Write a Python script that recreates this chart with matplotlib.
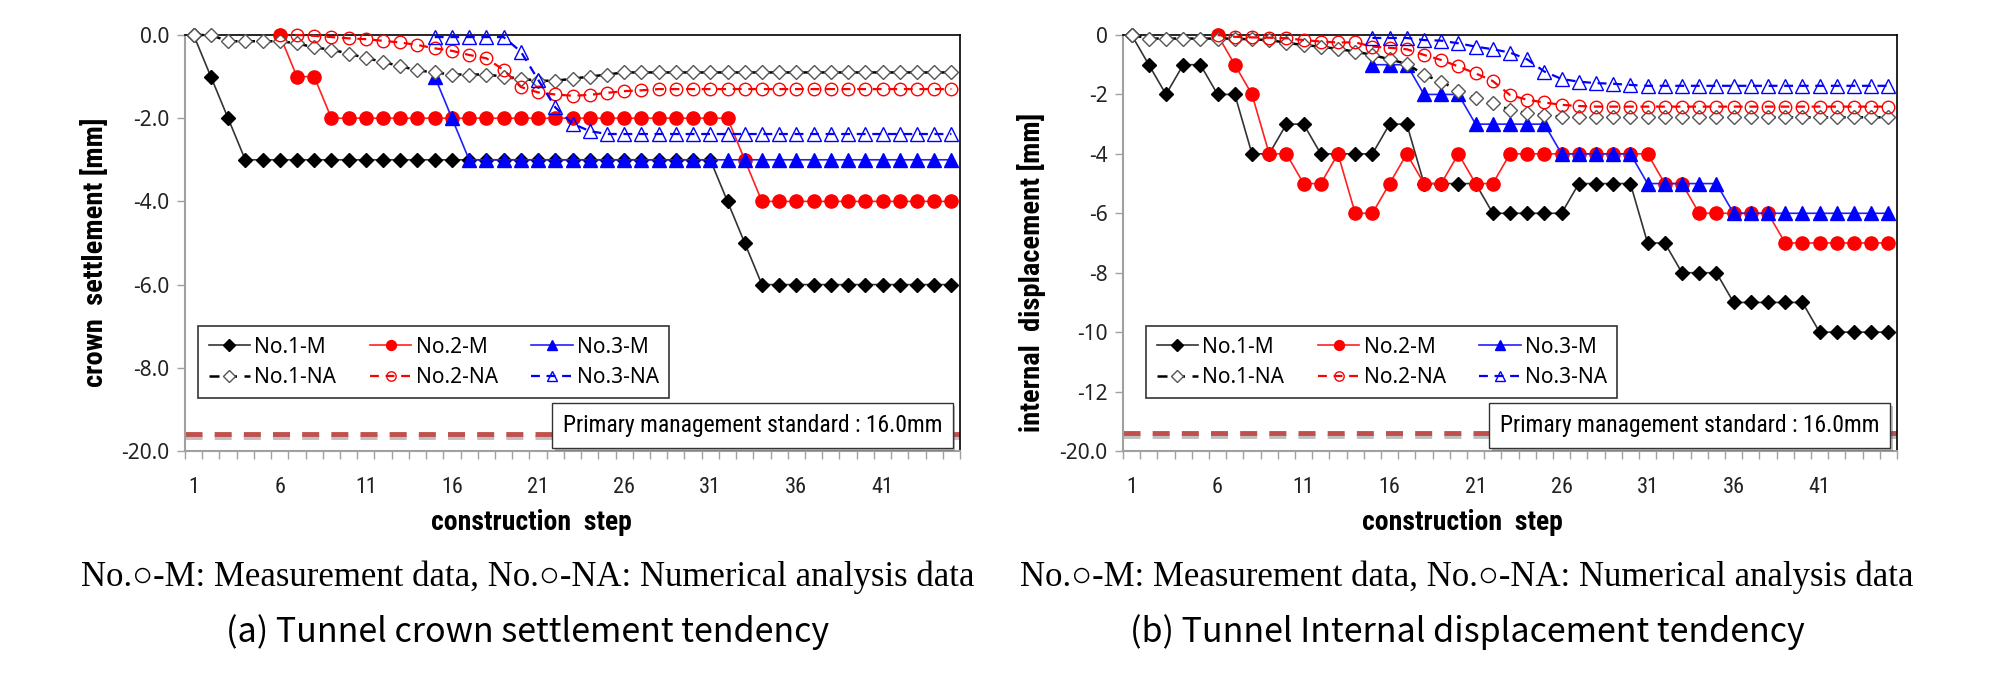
#!/usr/bin/env python3

import numpy as np
import matplotlib.pyplot as plt
import matplotlib.patheffects as pe

# construction steps (category axis)
steps = list(range(1, 46))
tick_steps = [1, 6, 11, 16, 21, 26, 31, 36, 41]
series_names = ["No.1-M", "No.2-M", "No.3-M", "No.1-NA", "No.2-NA", "No.3-NA"]

N = None

# (a) crown settlement, display units (axis bottom labelled -20.0)
crown_no1_m = [0, -1, -2, -3, -3, -3, -3, -3, -3, -3, -3, -3, -3, -3, -3,
               -3, -3, -3, -3, -3, -3, -3, -3, -3, -3, -3, -3, -3, -3, -3,
               -3, -4, -5, -6, -6, -6, -6, -6, -6, -6, -6, -6, -6, -6, -6]
crown_no2_m = [N, N, N, N, N, 0, -1, -1, -2, -2, -2, -2, -2, -2, -2,
               -2, -2, -2, -2, -2, -2, -2, -2, -2, -2, -2, -2, -2, -2, -2,
               -2, -2, -3, -4, -4, -4, -4, -4, -4, -4, -4, -4, -4, -4, -4]
crown_no3_m = [N, N, N, N, N, N, N, N, N, N, N, N, N, N, -1,
               -2, -3, -3, -3, -3, -3, -3, -3, -3, -3, -3, -3, -3, -3, -3,
               -3, -3, -3, -3, -3, -3, -3, -3, -3, -3, -3, -3, -3, -3, -3]
crown_no1_na = [0, 0, -0.15, -0.15, -0.15, -0.15, -0.2, -0.3, -0.35, -0.45,
                -0.55, -0.65, -0.75, -0.85, -0.9, -0.95, -0.95, -0.95, -1.0, -1.05,
                -1.1, -1.1, -1.05, -1.0, -0.95, -0.9, -0.9, -0.9, -0.9, -0.9,
                -0.9, -0.9, -0.9, -0.9, -0.9, -0.9, -0.9, -0.9, -0.9, -0.9,
                -0.9, -0.9, -0.9, -0.9, -0.9]
crown_no2_na = [N, N, N, N, N, 0, 0, -0.02, -0.05, -0.08,
                -0.1, -0.14, -0.18, -0.24, -0.32, -0.38, -0.48, -0.56, -0.84, -1.25,
                -1.38, -1.43, -1.46, -1.44, -1.39, -1.35, -1.33, -1.3, -1.3, -1.3,
                -1.3, -1.3, -1.3, -1.3, -1.3, -1.3, -1.3, -1.3, -1.3, -1.3,
                -1.3, -1.3, -1.3, -1.3, -1.3]
crown_no3_na = [N, N, N, N, N, N, N, N, N, N,
                N, N, N, N, -0.05, -0.05, -0.05, -0.05, -0.05, -0.4,
                -1.07, -1.74, -2.13, -2.31, -2.38, -2.38, -2.38, -2.38, -2.38, -2.38,
                -2.38, -2.38, -2.38, -2.38, -2.38, -2.38, -2.38, -2.38, -2.38, -2.38,
                -2.38, -2.38, -2.38, -2.38, -2.38]
crown_yticks = [0, -2, -4, -6, -8, -10]
crown_yticklabels = ["0.0", "-2.0", "-4.0", "-6.0", "-8.0", "-20.0"]
crown_standard = -9.6

# (b) internal displacement, display units (axis bottom labelled -20.0)
disp_no1_m = [0, -1, -2, -1, -1, -2, -2, -4, -4, -3, -3, -4, -4, -4, -4,
              -3, -3, -5, -5, -5, -5, -6, -6, -6, -6, -6, -5, -5, -5, -5,
              -7, -7, -8, -8, -8, -9, -9, -9, -9, -9, -10, -10, -10, -10, -10]
disp_no2_m = [N, N, N, N, N, 0, -1, -2, -4, -4, -5, -5, -4, -6, -6,
              -5, -4, -5, -5, -4, -5, -5, -4, -4, -4, -4, -4, -4, -4, -4,
              -4, -5, -5, -6, -6, -6, -6, -6, -7, -7, -7, -7, -7, -7, -7]
disp_no3_m = [N, N, N, N, N, N, N, N, N, N, N, N, N, N, -1,
              -1, -1, -2, -2, -2, -3, -3, -3, -3, -3, -4, -4, -4, -4, -4,
              -5, -5, -5, -5, -5, -6, -6, -6, -6, -6, -6, -6, -6, -6, -6]
disp_no1_na = [0, -0.12, -0.12, -0.12, -0.12, -0.12, -0.12, -0.15, -0.17, -0.26,
               -0.34, -0.39, -0.47, -0.56, -0.67, -0.82, -0.97, -1.34, -1.57, -1.87,
               -2.13, -2.3, -2.52, -2.63, -2.69, -2.75, -2.77, -2.77, -2.77, -2.77,
               -2.77, -2.77, -2.77, -2.77, -2.77, -2.77, -2.77, -2.77, -2.77, -2.77,
               -2.77, -2.77, -2.77, -2.77, -2.77]
disp_no2_na = [N, N, N, N, N, 0, -0.06, -0.08, -0.09, -0.11,
               -0.17, -0.22, -0.25, -0.25, -0.39, -0.43, -0.48, -0.67, -0.84, -1.06,
               -1.29, -1.55, -2.02, -2.18, -2.27, -2.35, -2.39, -2.41, -2.41, -2.41,
               -2.41, -2.41, -2.41, -2.41, -2.41, -2.41, -2.41, -2.41, -2.41, -2.41,
               -2.41, -2.41, -2.41, -2.41, -2.41]
disp_no3_na = [N, N, N, N, N, N, N, N, N, N,
               N, N, N, N, -0.1, -0.1, -0.1, -0.17, -0.19, -0.28,
               -0.39, -0.48, -0.59, -0.82, -1.23, -1.48, -1.57, -1.62, -1.64, -1.68,
               -1.71, -1.71, -1.71, -1.71, -1.71, -1.71, -1.71, -1.71, -1.71, -1.71,
               -1.71, -1.71, -1.71, -1.71, -1.71]
disp_yticks = [0, -2, -4, -6, -8, -10, -12, -14]
disp_yticklabels = ["0", "-2", "-4", "-6", "-8", "-10", "-12", "-20.0"]
disp_standard = -13.4

standard_text = "Primary management standard : 16.0mm"
note_text = "No.\u25cb-M: Measurement data, No.\u25cb-NA: Numerical analysis data"

# narrow faces first, whichever is installed
NARROW = ["Liberation Sans Narrow", "DejaVu Sans Condensed", "Roboto Condensed", "Roboto"]
PLAIN = ["Noto Sans", "DejaVu Sans"]

# line / marker styles, same order as series_names
styles = [
    dict(color="#333333", lw=1.2, ls="-", marker="D", ms=7.5, mfc="black", mec="black", mew=1),
    dict(color="#FF2020", lw=1.2, ls="-", marker="o", ms=9.5, mfc="#FF0000", mec="#FF0000", mew=1),
    dict(color="#2020FF", lw=1.2, ls="-", marker="^", ms=9.5, mfc="#0000FF", mec="#0000FF", mew=1),
    dict(color="black", lw=1.8, ls=(0, (4, 3)), marker="D", ms=7.5, mfc="white", mec="#555555", mew=1),
    dict(color="#FF0000", lw=1.6, ls=(0, (4, 3)), marker="o", ms=9, mfc="none", mec="#FF0000", mew=1),
    dict(color="#0000FF", lw=1.6, ls=(0, (4, 3)), marker="^", ms=9.5, mfc="none", mec="#0000FF", mew=1),
]


def to_arr(vals):
    return np.array([np.nan if v is None else v for v in vals], dtype=float)


def draw_panel(ax, series, yticks, yticklabels, std_pos, legend_x):
    handles = []
    for name, vals, st in zip(series_names, series, styles):
        h, = ax.plot(steps, to_arr(vals), label=name, clip_on=False, zorder=3, **st)
        handles.append(h)

    # primary management standard line
    ax.axhline(std_pos, color="#C0504D", lw=3.5, ls=(0, (3.5, 2.5)), zorder=2,
               path_effects=[pe.SimpleLineShadow(offset=(0, -2), alpha=0.25),
                             pe.Normal()])
    t = ax.text(0.732, 0.061, standard_text, transform=ax.transAxes,
                ha="center", va="center", fontsize=17, family=NARROW,
                fontstretch="condensed", zorder=5,
                bbox=dict(boxstyle="square,pad=0.45", fc="white", ec="#333333", lw=1))
    t.get_bbox_patch().set_path_effects([pe.withSimplePatchShadow(offset=(2, -2), alpha=0.35)])

    ax.set_xlim(0.5, 45.5)
    ax.set_ylim(yticks[-1], 0)
    ax.set_xticks(tick_steps)
    ax.set_xticklabels([str(s) for s in tick_steps], family=NARROW,
                       fontstretch="condensed", fontsize=16)
    ax.set_xticks(np.arange(0.5, 46, 1), minor=True)
    ax.tick_params(axis="x", which="major", length=0, pad=19, colors="#222222")
    ax.tick_params(axis="x", which="minor", length=6, width=1, color="#A0A0A0")
    ax.set_yticks(yticks)
    ax.set_yticklabels(yticklabels, family=PLAIN, fontsize=15)
    ax.tick_params(axis="y", length=6, width=1, colors="#222222", pad=5)
    ax.tick_params(axis="y", color="#A0A0A0")

    for side in ["left", "bottom"]:
        ax.spines[side].set_color("#A0A0A0")
        ax.spines[side].set_linewidth(1.5)
    for side in ["top", "right"]:
        ax.spines[side].set_color("black")
        ax.spines[side].set_linewidth(1.2)

    order = [0, 3, 1, 4, 2, 5]
    leg = ax.legend([handles[i] for i in order], [series_names[i] for i in order],
                    ncol=3, loc="upper left", bbox_to_anchor=(legend_x, 0.30),
                    prop=dict(family=PLAIN, size=15), frameon=True, fancybox=False,
                    edgecolor="black", handlelength=2.0, handletextpad=0.2,
                    columnspacing=1.6, labelspacing=0.45, borderpad=0.5,
                    borderaxespad=0, markerscale=0.75)
    leg.get_frame().set_linewidth(1.2)
    leg.set_zorder(6)


fig = plt.figure(figsize=(20.08, 6.89), dpi=100)

ax1 = fig.add_axes([185 / 2008, 1 - 451 / 689, 775 / 2008, 416 / 689])
draw_panel(ax1, [crown_no1_m, crown_no2_m, crown_no3_m,
                 crown_no1_na, crown_no2_na, crown_no3_na],
           crown_yticks, crown_yticklabels, crown_standard, 0.017)

ax2 = fig.add_axes([1123 / 2008, 1 - 451 / 689, 774 / 2008, 416 / 689])
draw_panel(ax2, [disp_no1_m, disp_no2_m, disp_no3_m,
                 disp_no1_na, disp_no2_na, disp_no3_na],
           disp_yticks, disp_yticklabels, disp_standard, 0.03)

## axis titles
fig.text(95 / 2008, 1 - 252 / 689, "crown  settlement [mm]", rotation=90,
         ha="center", va="center", fontsize=20.5, fontweight="bold",
         fontstretch="condensed", family=NARROW)
fig.text(1032 / 2008, 1 - 272 / 689, "internal  displacement [mm]", rotation=90,
         ha="center", va="center", fontsize=20.5, fontweight="bold",
         fontstretch="condensed", family=NARROW)
for cx in [531, 1462]:
    fig.text(cx / 2008, 1 - 522 / 689, "construction  step", ha="center", va="center",
             fontsize=20, fontweight="bold", fontstretch="condensed", family=NARROW)

## captions under each panel
for cx, cap in [(528, "(a) Tunnel crown settlement tendency"),
                (1467, "(b) Tunnel Internal displacement tendency")]:
    fig.text(cx / 2008, 1 - 577 / 689, note_text, ha="center", va="center",
             fontsize=25, family=["Liberation Serif", "Noto Sans CJK KR"])
    fig.text(cx / 2008, 1 - 632 / 689, cap, ha="center", va="center",
             fontsize=24.5, family=["Noto Sans CJK KR", "DejaVu Sans"], fontweight="light")

fig.savefig("out.png", dpi=100, facecolor="white")
